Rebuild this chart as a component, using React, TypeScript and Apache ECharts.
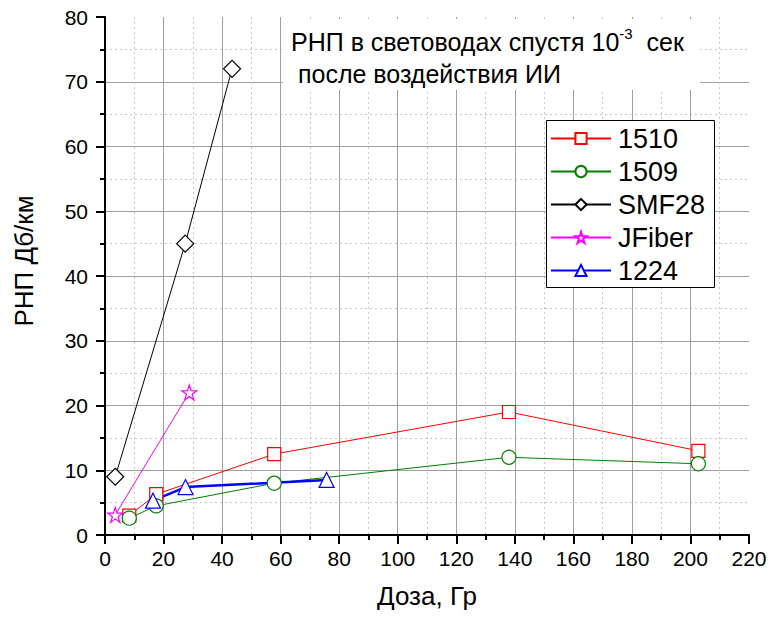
import React, { useEffect, useRef } from "react";
import * as echarts from "echarts";

const xTicks = [0, 20, 40, 60, 80, 100, 120, 140, 160, 180, 200, 220];
const yTicks = [0, 10, 20, 30, 40, 50, 60, 70, 80];

const s1510: [number, number][] = [[8.3, 3.0], [17.5, 6.3], [57.8, 12.5], [138, 19.0], [202.7, 13.0]];
const s1509: [number, number][] = [[8.3, 2.6], [17.5, 4.5], [57.8, 8.0], [138, 12.0], [202.7, 11.0]];
const sSMF28: [number, number][] = [[3.5, 9.0], [27.4, 45.0], [43.4, 72.0]];
const sJFiber: [number, number][] = [[3.5, 3.1], [28.8, 22.0]];
const s1224: [number, number][] = [[16.4, 5.3], [27.5, 7.4], [75.7, 8.5]];

const seriesNames = ["1510", "1509", "SMF28", "JFiber", "1224"];

const STAR =
  "path://M12,0 L14.7,8.28 L23.41,8.29 L16.37,13.42 L19.05,21.71 L12,16.6 L4.95,21.71 L7.63,13.42 L0.59,8.29 L9.3,8.28 Z";

const FONT = "Liberation Sans, Arial, Helvetica, sans-serif";

export default function App() {
  const ref = useRef<HTMLDivElement>(null);
  useEffect(() => {
    const chart = echarts.init(ref.current!, null, { renderer: "svg" });
    const mk = (
      name: string,
      data: [number, number][],
      color: string,
      symbol: string,
      size: number,
      lw = 1
    ) => ({
      name,
      type: "line",
      data,
      symbol,
      symbolSize: size,
      showAllSymbol: true,
      lineStyle: { color, width: lw },
      itemStyle: { color: "#ffffff", borderColor: color, borderWidth: 1.2 },
      emphasis: { disabled: true },
      z: 2,
    });
    chart.setOption({
      animation: false,
      textStyle: { fontFamily: FONT },
      grid: { left: 105, right: 22, top: 17, bottom: 86, containLabel: false },
      xAxis: {
        type: "value",
        min: xTicks[0],
        max: xTicks[xTicks.length - 1],
        interval: 20,
        name: "Доза, Гр",
        nameLocation: "middle",
        nameGap: 48,
        nameTextStyle: { fontSize: 26, color: "#000", fontFamily: FONT },
        axisLine: { onZero: false, lineStyle: { color: "#000", width: 2 } },
        axisTick: { show: true, length: 9, lineStyle: { color: "#000", width: 2 } },
        minorTick: { show: true, splitNumber: 2, length: 5, lineStyle: { color: "#000", width: 2 } },
        axisLabel: { fontSize: 21, color: "#000", margin: 13, fontFamily: FONT },
        splitLine: { show: true, showMinLine: false, showMaxLine: false, lineStyle: { color: "#a0a0a0", width: 1 } },
        minorSplitLine: { show: true, lineStyle: { color: "#c8c8c8", width: 1, type: [2, 3] } },
      },
      yAxis: {
        type: "value",
        min: yTicks[0],
        max: yTicks[yTicks.length - 1],
        interval: 10,
        axisLine: { onZero: false, lineStyle: { color: "#000", width: 2 } },
        axisTick: { show: true, length: 9, lineStyle: { color: "#000", width: 2 } },
        minorTick: { show: true, splitNumber: 2, length: 5, lineStyle: { color: "#000", width: 2 } },
        axisLabel: { fontSize: 21, color: "#000", margin: 17, fontFamily: FONT },
        splitLine: { show: true, showMinLine: false, showMaxLine: false, lineStyle: { color: "#a0a0a0", width: 1 } },
        minorSplitLine: { show: true, lineStyle: { color: "#c8c8c8", width: 1, type: [2, 3] } },
      },
      legend: {
        show: true,
        orient: "vertical",
        left: 550,
        top: 125,
        data: seriesNames,
        itemWidth: 60,
        itemHeight: 14,
        itemGap: 6,
        padding: 0,
        selectedMode: false,
        textStyle: { fontSize: 27, color: "#000", fontFamily: FONT, padding: [0, 0, 0, 2] },
        z: 6,
      },
      graphic: [
        {
          type: "rect",
          z: 3,
          shape: { x: 283, y: 19, width: 417, height: 71 },
          style: { fill: "#ffffff" },
        },
        {
          type: "rect",
          z: 3,
          shape: { x: 546.5, y: 120.5, width: 168, height: 167 },
          style: { fill: "#ffffff", stroke: "#000", lineWidth: 1 },
        },
        {
          type: "text",
          z: 5,
          x: 24,
          y: 261,
          rotation: Math.PI / 2,
          style: {
            text: "РНП Дб/км",
            fill: "#000",
            font: `26px ${FONT}`,
            align: "center",
            verticalAlign: "middle",
          },
        },
        {
          type: "text",
          z: 5,
          x: 291,
          y: 26,
          style: {
            text: "{a|РНП в световодах спустя 10}{s|-3}{a|  сек}\n{a| после воздействия ИИ}",
            fill: "#000",
            font: `25px ${FONT}`,
            rich: {
              a: { fontSize: 25, fontFamily: FONT, fill: "#000", lineHeight: 32 },
              s: { fontSize: 15, fontFamily: FONT, fill: "#000", lineHeight: 32, verticalAlign: "top", padding: [0, 0, 10, 0] },
            },
          },
        },
      ],
      series: [
        mk("1510", s1510, "#ff0000", "rect", 13),
        mk("1509", s1509, "#008000", "circle", 14),
        mk("SMF28", sSMF28, "#000000", "diamond", 17),
        mk("JFiber", sJFiber, "#ff00ff", STAR, 15),
        mk("1224", s1224, "#0000ff", "triangle", 15, 2.5),
      ],
    });
    return () => chart.dispose();
  }, []);
  return <div ref={ref} style={{ position: "absolute", left: 0, top: 0, width: 771, height: 621 }} />;
}
